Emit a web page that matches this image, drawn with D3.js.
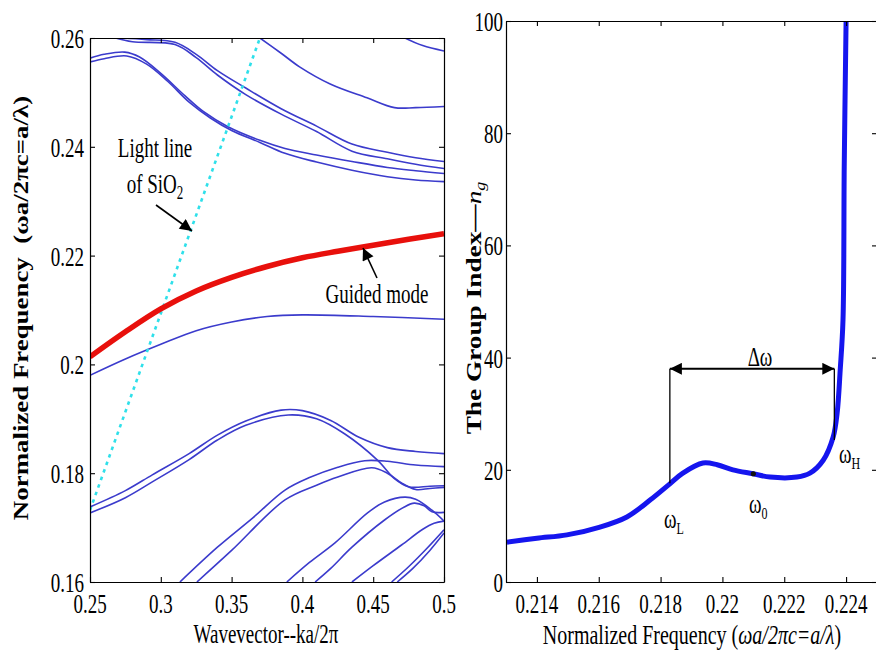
<!DOCTYPE html>
<html>
<head>
<meta charset="utf-8">
<script src="https://cdn.jsdelivr.net/npm/d3@7"></script>
<style>
  body { margin: 0; background: #fff; }
  svg { display: block; font-family: "Liberation Serif", "Times New Roman", serif; }
</style>
</head>
<body>
<svg id="chart" width="876" height="652"></svg>
<script>
// ── Left panel: band diagram (k, f) ───────────────────────────────────────
const kTicks = [0.25, 0.3, 0.35, 0.4, 0.45, 0.5];
const kTickLabels = ['0.25', '0.3', '0.35', '0.4', '0.45', '0.5'];
const fTicks = [0.16, 0.18, 0.2, 0.22, 0.24, 0.26];
const fTickLabels = ['0.16', '0.18', '0.2', '0.22', '0.24', '0.26'];

const guidedMode = [[0.25,0.2014],[0.275,0.2060],[0.30,0.2102],[0.325,0.2135],[0.35,0.2160],
  [0.375,0.2180],[0.40,0.2196],[0.425,0.2208],[0.45,0.2219],[0.475,0.2230],[0.50,0.2240]];
const lightLine = [[0.25,0.1732],[0.370,0.26]];

// upper bands
const bandU1 = [[0.272,0.2600],[0.29,0.2597],[0.31,0.2592],[0.325,0.2570],[0.34,0.2540],[0.36,0.2508],
  [0.385,0.2470],[0.41,0.2438],[0.435,0.2405],[0.46,0.2390],[0.48,0.2380],[0.50,0.2373]];
const bandU2 = [[0.268,0.2600],[0.28,0.2593],[0.31,0.2588],[0.325,0.2564],[0.34,0.2532],[0.36,0.2496],
  [0.385,0.2460],[0.41,0.2428],[0.435,0.2392],[0.46,0.2378],[0.48,0.2368],[0.50,0.2360]];
const bandL1 = [[0.25,0.2563],[0.26,0.2570],[0.2745,0.2574],[0.285,0.2565],[0.30,0.2535],[0.317,0.2494],
  [0.33,0.2465],[0.3474,0.2437],[0.37,0.2412],[0.3877,0.2397],[0.41,0.2385],[0.435,0.2373],
  [0.46,0.2362],[0.48,0.2356],[0.50,0.2351]];
const bandL2 = [[0.25,0.2556],[0.26,0.2562],[0.276,0.2567],[0.29,0.2552],[0.305,0.2520],[0.32,0.2482],
  [0.335,0.2453],[0.35,0.2430],[0.37,0.2408],[0.3877,0.2388],[0.41,0.2372],[0.435,0.2357],
  [0.46,0.2345],[0.48,0.2339],[0.50,0.2336]];
const bandTop = [[0.370,0.2600],[0.385,0.2572],[0.398,0.2547],[0.42,0.2515],[0.4456,0.2490],
  [0.465,0.2472],[0.48,0.2472],[0.50,0.2474]];
const bandCorner = [[0.4724,0.2600],[0.485,0.2586],[0.50,0.2576]];
// mode just under the guided mode
const bandMid = [[0.25,0.1980],[0.275,0.2010],[0.30,0.2037],[0.325,0.2062],[0.35,0.2078],
  [0.375,0.2088],[0.40,0.2091],[0.45,0.2088],[0.50,0.2083]];
// lower bands
const bandB1a = [[0.25,0.1738],[0.275,0.1768],[0.294,0.1797],[0.32,0.1836],[0.34,0.1870],[0.36,0.1896],
  [0.385,0.1916],[0.40,0.1915],[0.42,0.1897],[0.44,0.1866],[0.46,0.1847],[0.48,0.1840],[0.50,0.1836]];
const bandB1b = [[0.25,0.1727],[0.275,0.1755],[0.294,0.1784],[0.32,0.1825],[0.34,0.1861],[0.36,0.1888],
  [0.39,0.1907],[0.41,0.1900],[0.43,0.1872],[0.453,0.1824],[0.465,0.1790],[0.475,0.1775],
  [0.49,0.1776],[0.50,0.1777]];
const bandB2a = [[0.3135,0.1600],[0.34,0.1664],[0.365,0.1718],[0.3877,0.1769],[0.405,0.1792],
  [0.425,0.1811],[0.444,0.1823],[0.46,0.1822],[0.48,0.1815],[0.50,0.1812]];
const bandB2b = [[0.3255,0.1600],[0.35,0.1658],[0.3877,0.1751],[0.41,0.1778],[0.425,0.1793],
  [0.449,0.1810],[0.46,0.1800],[0.47,0.1782],[0.48,0.1770],[0.49,0.1772],[0.50,0.1774]];
const bandB3a = [[0.389,0.1600],[0.405,0.1636],[0.423,0.1672],[0.446,0.1727],[0.458,0.1747],
  [0.4724,0.1756],[0.48,0.1752],[0.4915,0.1732],[0.50,0.1712]];
const bandB3b = [[0.409,0.1600],[0.42,0.1625],[0.435,0.1664],[0.458,0.1714],[0.472,0.1738],
  [0.479,0.1745],[0.486,0.1740],[0.4915,0.1729],[0.50,0.1728]];
const bandB4 = [[0.435,0.1600],[0.45,0.1630],[0.47,0.1668],[0.485,0.1697],[0.493,0.1708],[0.50,0.1712]];
const bandB5a = [[0.463,0.1600],[0.475,0.1628],[0.488,0.1662],[0.50,0.1696]];
const bandB5b = [[0.467,0.1600],[0.478,0.1625],[0.49,0.1658],[0.50,0.1690]];

const blueBands = [bandU1, bandU2, bandL1, bandL2, bandTop, bandCorner, bandMid,
  bandB1a, bandB1b, bandB2a, bandB2b, bandB3a, bandB3b, bandB4, bandB5a, bandB5b];

// ── Right panel: group index ──────────────────────────────────────────────
const wTicks = [0.214, 0.216, 0.218, 0.22, 0.222, 0.224];
const wTickLabels = ['0.214', '0.216', '0.218', '0.22', '0.222', '0.224'];
const ngTicks = [0, 20, 40, 60, 80, 100];

const freq = [0.21303,0.214,0.21497,0.21604,0.21691,0.21766,0.2183,0.21872,0.21937,0.21983,0.22034,
  0.22099,0.22154,0.22241,0.22283,0.22326,0.22358,0.22371,0.22381,0.2239,0.22394,0.224];
const groupIndex = [7.1,7.8,8.4,9.8,11.6,14.6,17.5,19.4,21.2,20.9,20.0,19.3,18.7,18.7,19.4,21.7,
  25.8,30.1,37.8,46.7,74,100];

const omegaL = 0.2183, omegaLng = 17.6;
const omegaH = 0.22362, omegaHng = 25.3;
const omega0 = 0.2210, omega0ng = 19.3;
const bracketNg = 38;

// ── Helpers ───────────────────────────────────────────────────────────────
const svg = d3.select('#chart');
const STRETCH = 1.4;

function txt(parent, x, y, str, o = {}) {
  return parent.append('text')
    .attr('transform', `translate(${x},${y}) scale(1,${o.sy || STRETCH})`)
    .attr('text-anchor', o.anchor || 'middle')
    .attr('font-size', o.size || 19)
    .attr('font-weight', o.weight || 'normal')
    .attr('font-style', o.style || 'normal')
    .text(str);
}

const defs = svg.append('defs');
defs.append('marker')
  .attr('id', 'head')
  .attr('markerUnits', 'userSpaceOnUse')
  .attr('viewBox', '0 0 10 10')
  .attr('refX', 10).attr('refY', 5)
  .attr('markerWidth', 13).attr('markerHeight', 12)
  .attr('orient', 'auto-start-reverse')
  .append('path').attr('d', 'M0,0L10,5L0,10Z').attr('fill', '#000');

function boxAxes(g, x, y, xt, yt) {
  const [x0, x1] = x.range(), [y0, y1] = y.range();
  const st = (s) => s.call((a) => a.select('.domain').attr('stroke', '#000').attr('stroke-width', 1.2))
    .call((a) => a.selectAll('.tick line').attr('stroke', '#000').attr('stroke-width', 1.1));
  g.append('g').attr('transform', `translate(0,${y0})`)
    .call(d3.axisBottom(x).tickValues(xt).tickSize(-5).tickSizeOuter(0).tickFormat('')).call(st);
  g.append('g').attr('transform', `translate(0,${y1})`)
    .call(d3.axisTop(x).tickValues(xt).tickSize(-5).tickSizeOuter(0).tickFormat('')).call(st);
  g.append('g').attr('transform', `translate(${x0},0)`)
    .call(d3.axisLeft(y).tickValues(yt).tickSize(-5).tickSizeOuter(0).tickFormat('')).call(st);
  g.append('g').attr('transform', `translate(${x1},0)`)
    .call(d3.axisRight(y).tickValues(yt).tickSize(-5).tickSizeOuter(0).tickFormat('')).call(st);
}

// ── Left panel ────────────────────────────────────────────────────────────
const xL = d3.scaleLinear().domain([0.25, 0.5]).range([90, 444]);
const yL = d3.scaleLinear().domain([0.16, 0.26]).range([582, 38]);
const gL = svg.append('g');

defs.append('clipPath').attr('id', 'clipL').append('rect')
  .attr('x', 90).attr('y', 38).attr('width', 354).attr('height', 544);

const lineL = d3.line().x((d) => xL(d[0])).y((d) => yL(d[1])).curve(d3.curveCatmullRom.alpha(0.5));
const plotL = gL.append('g').attr('clip-path', 'url(#clipL)');

plotL.selectAll('.band').data(blueBands).join('path')
  .attr('class', 'band').attr('d', lineL)
  .attr('fill', 'none').attr('stroke', '#3b3bcc').attr('stroke-width', 1.6);

plotL.append('path').datum(lightLine).attr('d', lineL)
  .attr('fill', 'none').attr('stroke', '#2fe0ea').attr('stroke-width', 2.6)
  .attr('stroke-dasharray', '3.5 4.5');

plotL.append('path').datum(guidedMode).attr('d', lineL)
  .attr('fill', 'none').attr('stroke', '#e8100c').attr('stroke-width', 5.5);

boxAxes(gL, xL, yL, kTicks, fTicks);

kTicks.forEach((k, i) => txt(gL, xL(k), 613, kTickLabels[i]));
fTicks.forEach((f, i) => txt(gL, 84, yL(f) + 10, fTickLabels[i], { anchor: 'end' }));

txt(gL, 266, 643, 'Wavevector--ka/2\u03c0');

gL.append('text')
  .attr('transform', 'translate(28,308) rotate(-90) scale(1.28,1)')
  .attr('text-anchor', 'middle').attr('font-size', 21).attr('font-weight', 'bold')
  .attr('xml:space', 'preserve')
  .text('Normalized Frequency  (\u03c9a/2\u03c0c=a/\u03bb)');

// annotations
txt(gL, 155, 157, 'Light line');
const sio = txt(gL, 155, 193, 'of SiO');
sio.append('tspan').attr('font-size', 13).attr('dy', 4).text('2');

gL.append('line').attr('x1', 156).attr('y1', 205).attr('x2', 192).attr('y2', 231)
  .attr('stroke', '#000').attr('stroke-width', 1.6).attr('marker-end', 'url(#head)');

txt(gL, 377, 303, 'Guided mode');
gL.append('line').attr('x1', 377).attr('y1', 278).attr('x2', 363).attr('y2', 248)
  .attr('stroke', '#000').attr('stroke-width', 1.6).attr('marker-end', 'url(#head)');

// ── Right panel ───────────────────────────────────────────────────────────
const xR = d3.scaleLinear().domain([0.213, 0.225]).range([506, 877]);
const yR = d3.scaleLinear().domain([0, 100]).range([582, 21]);
const gR = svg.append('g');

defs.append('clipPath').attr('id', 'clipR').append('rect')
  .attr('x', 506).attr('y', 21).attr('width', 371).attr('height', 561);

const ngData = freq.map((w, i) => [w, groupIndex[i]]);
const lineR = d3.line().x((d) => xR(d[0])).y((d) => yR(d[1])).curve(d3.curveCatmullRom.alpha(0.5));

gR.append('g').attr('clip-path', 'url(#clipR)')
  .append('path').datum(ngData).attr('d', lineR)
  .attr('fill', 'none').attr('stroke', '#1515ee').attr('stroke-width', 5);

gR.append('circle').attr('cx', xR(omega0)).attr('cy', yR(omega0ng)).attr('r', 2.6).attr('fill', '#111');

boxAxes(gR, xR, yR, wTicks, ngTicks);

wTicks.forEach((w, i) => txt(gR, xR(w), 613, wTickLabels[i]));
ngTicks.forEach((v) => txt(gR, 503, yR(v) + 10, String(v), { anchor: 'end' }));

const xlab = txt(gR, 692, 644, 'Normalized Frequency (', { size: 20 });
xlab.append('tspan').attr('font-style', 'italic').text('\u03c9a/2\u03c0c=a/\u03bb');
xlab.append('tspan').text(')');

const ylab = gR.append('text')
  .attr('transform', 'translate(481,308) rotate(-90) scale(1.3,1)')
  .attr('text-anchor', 'middle').attr('font-size', 21).attr('font-weight', 'bold')
  .text('The Group Index\u2014');
ylab.append('tspan').attr('font-style', 'italic').attr('font-weight', 'normal').text('n');
ylab.append('tspan').attr('font-style', 'italic').attr('font-weight', 'normal')
  .attr('font-size', 14).attr('dy', 4).text('g');

// Δω bracket
gR.append('line').attr('x1', xR(omegaL)).attr('x2', xR(omegaL))
  .attr('y1', yR(bracketNg)).attr('y2', yR(omegaLng)).attr('stroke', '#000').attr('stroke-width', 1.3);
gR.append('line').attr('x1', xR(omegaH)).attr('x2', xR(omegaH))
  .attr('y1', yR(bracketNg)).attr('y2', yR(omegaHng)).attr('stroke', '#000').attr('stroke-width', 1.3);
gR.append('line').attr('x1', xR(omegaL)).attr('x2', xR(omegaH))
  .attr('y1', yR(bracketNg)).attr('y2', yR(bracketNg)).attr('stroke', '#000').attr('stroke-width', 2)
  .attr('marker-start', 'url(#head)').attr('marker-end', 'url(#head)');

txt(gR, 760, 366, '\u0394\u03c9');

function omegaLabel(x, y, sub) {
  const t = txt(gR, x, y, '\u03c9', { anchor: 'start' });
  t.append('tspan').attr('font-size', 12).attr('dy', 4).text(sub);
}
omegaLabel(664, 528, 'L');
omegaLabel(749, 513, '0');
omegaLabel(839, 463, 'H');
</script>
</body>
</html>
